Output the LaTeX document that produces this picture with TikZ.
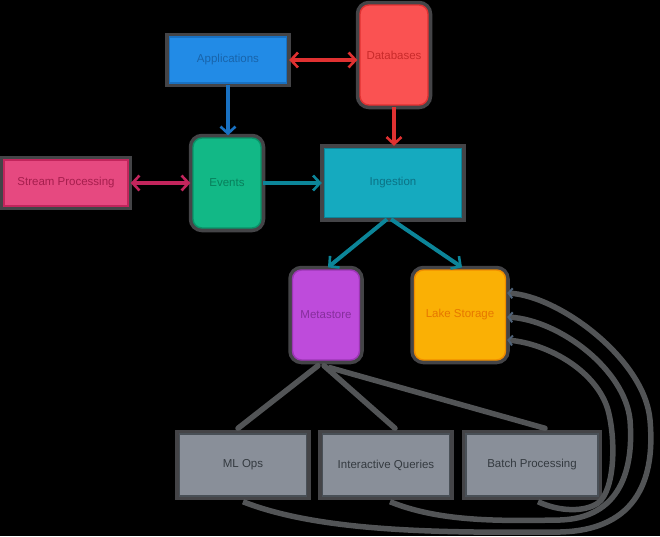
\documentclass[tikz,border=0pt]{standalone}
\usepackage{fontspec}
\setmainfont{Liberation Sans}
\usetikzlibrary{arrows.meta,calc}
\definecolor{appfill}{HTML}{228BE6}\definecolor{appdraw}{HTML}{1971C2}\definecolor{apptext}{HTML}{1864AB}
\definecolor{dbfill}{HTML}{FA5252}\definecolor{dbdraw}{HTML}{E03131}\definecolor{dbtext}{HTML}{C92A2A}
\definecolor{evfill}{HTML}{12B886}\definecolor{evdraw}{HTML}{099268}\definecolor{evtext}{HTML}{087F5B}
\definecolor{spfill}{HTML}{E64980}\definecolor{spdraw}{HTML}{C2255C}\definecolor{sptext}{HTML}{A61E4D}
\definecolor{ingfill}{HTML}{15AABF}\definecolor{ingdraw}{HTML}{0C8599}\definecolor{ingtext}{HTML}{0B7285}
\definecolor{metafill}{HTML}{BE4BDB}\definecolor{metadraw}{HTML}{9C36B5}\definecolor{metatext}{HTML}{862E9C}
\definecolor{lakefill}{HTML}{FAB005}\definecolor{lakedraw}{HTML}{F08C00}\definecolor{laketext}{HTML}{E67700}
\definecolor{grayfill}{HTML}{898F99}\definecolor{graydraw}{HTML}{495057}\definecolor{graytext}{HTML}{343A40}
\definecolor{halo}{HTML}{444447}
\definecolor{conn}{HTML}{525456}
\definecolor{connhead}{HTML}{4F6278}
\tikzset{
  box/.style={rectangle, line width=1.4pt, font=\fontsize{11.5}{13}\selectfont, inner sep=2pt,
    preaction={draw=halo, line width=8.5pt}},
  rbox/.style={box, rounded corners=9pt},
  colarrow/.style={line width=3.4pt, -{Straight Barb[length=7pt,width=15pt,line width=2.6pt]}},
  colarrows/.style={line width=3.4pt, {Straight Barb[length=7pt,width=15pt,line width=2.6pt]}-{Straight Barb[length=7pt,width=15pt,line width=2.6pt]}},
  grayline/.style={draw=conn, line width=5.5pt, line cap=round},
  grayarrow/.style={draw=conn, line width=5.5pt, -{Straight Barb[length=4pt,width=10pt,line width=2pt,color=connhead]}},
}
\begin{document}
\begin{tikzpicture}[x=1pt,y=-1pt]
\fill[black] (0,0) rectangle (660,536);
\useasboundingbox (0,0) rectangle (660,536);

% nodes
\node[box, fill=appfill, draw=appdraw, text=apptext, minimum width=117pt, minimum height=46pt] (app) at (228,60) {Applications};
\node[rbox, fill=dbfill, draw=dbdraw, text=dbtext, minimum width=68pt, minimum height=100pt] (db) at (394,55) {Databases};
\node[box, fill=spfill, draw=spdraw, text=sptext, minimum width=124pt, minimum height=46pt] (sp) at (66,183) {Stream Processing};
\node[rbox, fill=evfill, draw=evdraw, text=evtext, minimum width=68pt, minimum height=90pt] (ev) at (227,183) {Events};
\node[box, fill=ingfill, draw=ingdraw, text=ingtext, minimum width=137pt, minimum height=69pt] (ing) at (393,183) {Ingestion};
\node[rbox, fill=metafill, draw=metadraw, text=metatext, minimum width=67pt, minimum height=90pt] (meta) at (326,315) {Metastore};
\node[rbox, fill=lakefill, draw=lakedraw, text=laketext, minimum width=91pt, minimum height=90pt] (lake) at (460,315) {Lake Storage};
\node[box, fill=grayfill, draw=graydraw, text=graytext, minimum width=127pt, minimum height=62pt] (ml) at (243,465) {ML Ops};
\node[box, fill=grayfill, draw=graydraw, text=graytext, minimum width=127pt, minimum height=62pt] (iq) at (386,465) {Interactive Queries};
\node[box, fill=grayfill, draw=graydraw, text=graytext, minimum width=132pt, minimum height=62pt] (bp) at (532,465) {Batch Processing};

% coloured connectors
\draw[colarrows, draw=dbdraw] ($(app.east)+(2,0)$) -- ($(app.east -| db.west)+(-2,0)$);
\draw[colarrow, draw=appdraw] ($(app.south)+(0,1)$) -- ($(app.south |- ev.north)+(0,-2)$);
\draw[colarrow, draw=dbdraw] ($(db.south)+(0,1)$) -- ($(db.south |- ing.north)+(0,-2)$);
\draw[colarrows, draw=spdraw] ($(sp.east)+(2,0)$) -- ($(ev.west)+(-2,0)$);
\draw[colarrow, draw=ingdraw] ($(ev.east)+(1,0)$) -- ($(ing.west)+(-2,0)$);
\draw[colarrow, draw=ingdraw, line width=4pt] ($(ing.south)+(-6,1)$) -- ($(meta.north)+(2,-2)$);
\draw[colarrow, draw=ingdraw, line width=4pt] ($(ing.south)+(-2,1)$) -- ($(lake.north)+(2,-2)$);

% metastore to consumers
\draw[grayline] ($(meta.south)+(-8,5)$) -- ($(ml.north)+(-5,-5)$);
\draw[grayline] ($(meta.south)+(-2,5)$) -- ($(iq.north)+(9,-5)$);
\draw[grayline] ($(meta.south)+(4,7)$) -- ($(bp.north)+(13,-5)$);

% consumers back to lake storage
\coordinate (l1) at ($(lake.east)+(1,-22)$);
\coordinate (l2) at ($(lake.east)+(1,2)$);
\coordinate (l3) at ($(lake.east)+(1,25)$);
\draw[grayarrow] ($(ml.south)+(0,5)$) .. controls (320,532) and (440,533) .. (560,532)
   .. controls (640,530) and (655,475) .. (650,420)
   .. controls (645,360) and (560,296) .. (l1);
\draw[grayarrow] ($(iq.south)+(4,5)$) .. controls (440,522) and (500,521) .. (560,520)
   .. controls (620,518) and (634,470) .. (630,420)
   .. controls (625,370) and (560,320) .. (l2);
\draw[grayarrow] ($(bp.south)+(6,5)$) .. controls (560,512) and (585,512) .. (598,503)
   .. controls (615,490) and (616,440) .. (608,410)
   .. controls (597,372) and (550,344) .. (l3);
\end{tikzpicture}
\end{document}
